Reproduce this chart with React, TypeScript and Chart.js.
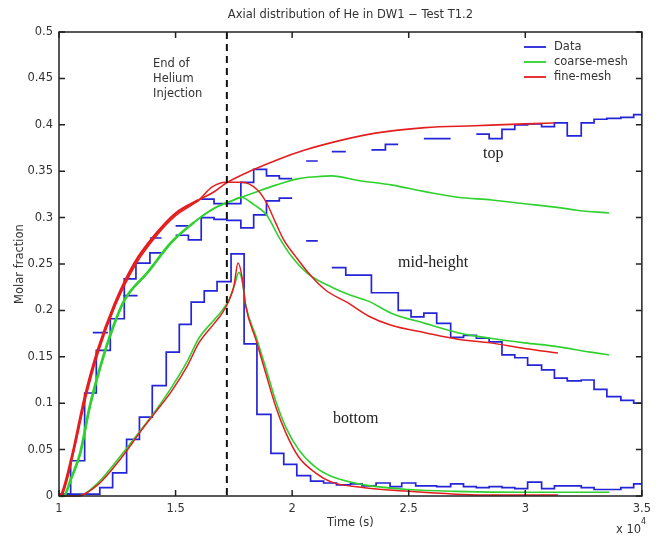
import { useEffect, useRef } from "react";
import { Chart, registerables } from "chart.js";
Chart.register(...registerables);

// ---- axes ----
const xTickValues = [1, 1.5, 2, 2.5, 3, 3.5];
const yTickValues = [0, 0.05, 0.1, 0.15, 0.2, 0.25, 0.3, 0.35, 0.4, 0.45, 0.5];
const injectionEnd = 1.72;

// ---- measured data (step series: edges in time x 1e4 s, level held between edges, null = gap) ----
const topEdges = [1.0, 1.05, 1.11, 1.16, 1.22, 1.28, 1.33, 1.39, 1.44, 1.5, 1.555, 1.61, 1.665, 1.72, 1.78, 1.835, 1.89, 1.945, 2.0, 2.06, 2.11, 2.17, 2.23, 2.34, 2.4, 2.455, 2.565, 2.68, 2.79, 2.845, 2.9, 2.955, 3.01, 3.07, 3.125, 3.18, 3.24, 3.295, 3.35, 3.41, 3.465, 3.5];
const topLevels = [0.002, 0.038, 0.111, 0.157, 0.191, 0.234, 0.251, 0.262, null, 0.291, null, 0.32, 0.315, 0.315, 0.338, 0.352, 0.345, 0.342, null, 0.361, null, 0.371, null, 0.373, 0.379, null, 0.385, null, 0.39, 0.385, 0.395, 0.4, 0.401, 0.398, 0.402, 0.388, 0.402, 0.406, 0.407, 0.408, 0.411];

const midEdges = [1.145, 1.21, 1.277, 1.337, 1.39, 1.44, 1.5, 1.555, 1.61, 1.665, 1.72, 1.78, 1.835, 1.89, 1.945, 2.0, 2.06, 2.11, 2.17, 2.23, 2.34, 2.455, 2.51, 2.565, 2.62, 2.68, 2.735, 2.79, 2.845, 2.9, 2.955, 3.01, 3.07, 3.125, 3.18, 3.24, 3.295, 3.35, 3.41, 3.465, 3.5];
const midLevels = [0.176, null, 0.216, null, 0.278, null, 0.281, 0.276, 0.3, 0.298, 0.297, 0.289, 0.303, 0.318, 0.321, null, 0.275, null, 0.246, 0.238, 0.219, 0.2, 0.193, 0.197, 0.186, 0.171, 0.173, 0.17, 0.166, 0.152, 0.149, 0.141, 0.136, 0.127, 0.124, 0.125, 0.115, 0.107, 0.103, 0.1];

const botEdges = [1.0, 1.175, 1.23, 1.29, 1.345, 1.4, 1.46, 1.516, 1.567, 1.623, 1.678, 1.738, 1.794, 1.849, 1.909, 1.964, 2.02, 2.079, 2.135, 2.19, 2.25, 2.3, 2.36, 2.42, 2.47, 2.53, 2.62, 2.68, 2.735, 2.79, 2.845, 2.9, 2.955, 3.01, 3.07, 3.125, 3.18, 3.24, 3.295, 3.35, 3.41, 3.465, 3.5];
const botLevels = [0.002, 0.009, 0.025, 0.061, 0.085, 0.119, 0.155, 0.185, 0.209, 0.221, 0.231, 0.261, 0.164, 0.088, 0.046, 0.034, 0.022, 0.016, 0.014, 0.012, 0.013, 0.011, 0.014, 0.01, 0.014, 0.011, 0.01, 0.013, 0.01, 0.009, 0.01, 0.009, 0.008, 0.015, 0.008, 0.011, 0.011, 0.009, 0.007, 0.007, 0.009, 0.013];

// ---- simulations ----
const fineTopX = [1.0, 1.013, 1.055, 1.111, 1.166, 1.239, 1.324, 1.418, 1.503, 1.6, 1.66, 1.716, 1.828, 1.943, 2.058, 2.156, 2.357, 2.57, 2.783, 2.997, 3.125];
const fineTopY = [0, 0.003, 0.042, 0.107, 0.157, 0.207, 0.251, 0.283, 0.305, 0.319, 0.327, 0.337, 0.351, 0.363, 0.373, 0.38, 0.391, 0.397, 0.399, 0.401, 0.402];
const fineMidX = [1.0, 1.017, 1.06, 1.115, 1.17, 1.243, 1.33, 1.42, 1.5, 1.6, 1.657, 1.716, 1.785, 1.85, 1.89, 1.93, 1.964, 2.015, 2.071, 2.143, 2.24, 2.327, 2.425, 2.57, 2.71, 2.85, 2.997, 3.14];
const fineMidY = [0, 0.003, 0.044, 0.106, 0.156, 0.206, 0.25, 0.281, 0.302, 0.319, 0.333, 0.338, 0.338, 0.33, 0.316, 0.294, 0.276, 0.258, 0.24, 0.222, 0.208, 0.194, 0.184, 0.176, 0.169, 0.165, 0.159, 0.154];
const fineBotX = [1.0, 1.08, 1.166, 1.27, 1.354, 1.4, 1.48, 1.55, 1.6, 1.666, 1.7, 1.73, 1.75, 1.768, 1.785, 1.8, 1.845, 1.887, 1.93, 1.973, 2.028, 2.1, 2.17, 2.31, 2.5, 2.7, 2.9, 3.14];
const fineBotY = [0, 0, 0.012, 0.042, 0.071, 0.086, 0.112, 0.14, 0.165, 0.186, 0.197, 0.211, 0.226, 0.251, 0.236, 0.206, 0.168, 0.132, 0.096, 0.068, 0.042, 0.025, 0.015, 0.009, 0.005, 0.002, 0.001, 0.001];

const coarseTopX = [1.0, 1.02, 1.05, 1.09, 1.13, 1.175, 1.23, 1.28, 1.38, 1.48, 1.58, 1.666, 1.74, 1.828, 1.93, 2.028, 2.1, 2.17, 2.284, 2.43, 2.57, 2.71, 2.856, 2.997, 3.137, 3.22, 3.36];
const coarseTopY = [0, 0, 0.018, 0.046, 0.095, 0.138, 0.181, 0.211, 0.241, 0.273, 0.295, 0.31, 0.318, 0.326, 0.335, 0.342, 0.344, 0.345, 0.34, 0.335, 0.328, 0.322, 0.319, 0.315, 0.311, 0.308, 0.305];
const coarseMidX = [1.0, 1.022, 1.053, 1.093, 1.133, 1.178, 1.233, 1.283, 1.383, 1.483, 1.58, 1.666, 1.74, 1.78, 1.836, 1.89, 1.943, 1.998, 2.07, 2.17, 2.254, 2.327, 2.425, 2.57, 2.71, 2.85, 2.997, 3.137, 3.278, 3.36];
const coarseMidY = [0, 0, 0.018, 0.046, 0.095, 0.138, 0.181, 0.211, 0.241, 0.273, 0.295, 0.31, 0.318, 0.322, 0.314, 0.303, 0.279, 0.258, 0.239, 0.225, 0.216, 0.21, 0.197, 0.186, 0.176, 0.17, 0.165, 0.161, 0.155, 0.152];
const coarseBotX = [1.0, 1.08, 1.166, 1.27, 1.354, 1.4, 1.48, 1.55, 1.6, 1.666, 1.7, 1.73, 1.75, 1.772, 1.79, 1.8, 1.845, 1.887, 1.93, 1.973, 2.028, 2.1, 2.17, 2.31, 2.5, 2.7, 3.0, 3.36];
const coarseBotY = [0, 0, 0.014, 0.045, 0.072, 0.087, 0.116, 0.145, 0.17, 0.19, 0.2, 0.212, 0.225, 0.241, 0.226, 0.207, 0.172, 0.138, 0.102, 0.074, 0.05, 0.031, 0.021, 0.012, 0.007, 0.005, 0.004, 0.004];

const legendLabels = ["Data", "coarse-mesh", "fine-mesh"];
const BLUE = "#2424d8";
const GREEN = "#2ed12e";
const RED = "#e41e1e";
const legendColors = [BLUE, GREEN, RED];

const SANS = "'DejaVu Sans', sans-serif";
const SERIF = "'Liberation Serif', 'DejaVu Serif', serif";

function steps(edges: number[], levels: (number | null)[]) {
  const pts: { x: number; y: number | null }[] = [];
  for (let i = 0; i < levels.length; i++) {
    const v = levels[i];
    if (v === null) {
      pts.push({ x: edges[i], y: null });
      continue;
    }
    pts.push({ x: edges[i], y: v });
    const next = levels[i + 1];
    if (i === levels.length - 1 || next === null) pts.push({ x: edges[i + 1], y: v });
  }
  return pts;
}
function curve(xs: number[], ys: number[]) {
  return xs.map((x, i) => ({ x, y: ys[i] }));
}

const decor = {
  id: "decor",
  afterDatasetsDraw(chart: any) {
    const { ctx, chartArea: a, scales } = chart;
    const xs = scales.x, ys = scales.y;
    ctx.save();
    // end of injection
    const px = xs.getPixelForValue(injectionEnd);
    ctx.strokeStyle = "#111";
    ctx.lineWidth = 2;
    ctx.setLineDash([7, 5]);
    ctx.beginPath();
    ctx.moveTo(px, a.top);
    ctx.lineTo(px, a.bottom);
    ctx.stroke();
    ctx.setLineDash([]);
    // box
    ctx.strokeStyle = "#222";
    ctx.lineWidth = 1.5;
    ctx.strokeRect(a.left, a.top, a.right - a.left, a.bottom - a.top);
    ctx.beginPath();
    for (const v of xTickValues) {
      const p = xs.getPixelForValue(v);
      ctx.moveTo(p, a.bottom); ctx.lineTo(p, a.bottom - 6);
      ctx.moveTo(p, a.top); ctx.lineTo(p, a.top + 6);
    }
    for (const v of yTickValues) {
      const p = ys.getPixelForValue(v);
      ctx.moveTo(a.left, p); ctx.lineTo(a.left + 6, p);
      ctx.moveTo(a.right, p); ctx.lineTo(a.right - 6, p);
    }
    ctx.stroke();

    // texts
    ctx.fillStyle = "#333";
    ctx.font = `11.5px ${SANS}`;
    ctx.textAlign = "center";
    ctx.textBaseline = "middle";
    ctx.fillText("Axial distribution of He in DW1 \u2212 Test T1.2", (a.left + a.right) / 2, 15);
    ctx.fillText("Time (s)", (a.left + a.right) / 2, 523);
    ctx.save();
    ctx.translate(20, (a.top + a.bottom) / 2);
    ctx.rotate(-Math.PI / 2);
    ctx.fillText("Molar fraction", 0, 0);
    ctx.restore();
    ctx.textAlign = "left";
    ctx.fillText("x 10", 616, 530);
    ctx.font = `8px ${SANS}`;
    ctx.fillText("4", 641, 522);

    ctx.font = `11.5px ${SANS}`;
    ctx.textBaseline = "alphabetic";
    ctx.fillText("End of", 153, 67);
    ctx.fillText("Helium", 153, 82);
    ctx.fillText("Injection", 153, 97);

    ctx.fillStyle = "#222";
    ctx.font = `16px ${SERIF}`;
    ctx.fillText("top", 483, 158);
    ctx.fillText("mid-height", 398, 267);
    ctx.fillText("bottom", 333, 423);

    // legend
    ctx.font = `11.5px ${SANS}`;
    ctx.textBaseline = "middle";
    legendLabels.forEach((lab, i) => {
      const yy = 47 + i * 15;
      ctx.strokeStyle = legendColors[i];
      ctx.lineWidth = 1.8;
      ctx.beginPath();
      ctx.moveTo(524, yy);
      ctx.lineTo(546, yy);
      ctx.stroke();
      ctx.fillStyle = "#333";
      ctx.fillText(lab, 554, yy);
    });
    ctx.restore();
  },
};

export default function App() {
  const ref = useRef<HTMLCanvasElement | null>(null);
  useEffect(() => {
    if (!ref.current) return;
    const mk = (data: any[], color: string, width: number, order: number, stepped = false, earlyWidth = 0, earlyUntil = 0) => ({
      data,
      borderColor: color,
      backgroundColor: color,
      borderWidth: width,
      pointRadius: 0,
      tension: 0,
      cubicInterpolationMode: stepped ? "default" : "monotone",
      stepped: stepped ? "before" : false,
      spanGaps: false,
      order,
      clip: 3,
      segment: earlyWidth
        ? { borderWidth: (c: any) => (c.p1.parsed.x <= earlyUntil ? earlyWidth : width) }
        : undefined,
    });
    const chart = new Chart(ref.current, {
      type: "line",
      data: {
        datasets: [
          mk(steps(topEdges, topLevels), BLUE, 1.7, 3, true),
          mk(steps(midEdges, midLevels), BLUE, 1.7, 3, true),
          mk(steps(botEdges, botLevels), BLUE, 1.7, 3, true),
          mk(curve(coarseTopX, coarseTopY), GREEN, 1.6, 2, false, 2.4, 1.6),
          mk(curve(coarseMidX, coarseMidY), GREEN, 1.6, 2),
          mk(curve(coarseBotX, coarseBotY), GREEN, 1.6, 2),
          mk(curve(fineTopX, fineTopY), RED, 1.6, 1, false, 2.6, 1.6),
          mk(curve(fineMidX, fineMidY), RED, 1.5, 1),
          mk(curve(fineBotX, fineBotY), RED, 1.5, 1),
        ] as any,
      },
      options: {
        animation: false,
        responsive: false,
        layout: { padding: { top: 32, right: 12, left: 0, bottom: 0 } },
        plugins: { legend: { display: false }, tooltip: { enabled: false }, title: { display: false } },
        scales: {
          x: {
            type: "linear",
            min: 1,
            max: 3.5,
            grid: { display: false, drawTicks: false },
            border: { display: false },
            afterFit: (s: any) => { s.height = 42; },
            afterBuildTicks: (s: any) => { s.ticks = xTickValues.map((v) => ({ value: v })); },
            ticks: {
              padding: 6,
              color: "#333",
              font: { family: SANS, size: 11.5 },
              callback: (v: any) => String(Number(Number(v).toFixed(2))),
            },
          },
          y: {
            type: "linear",
            min: 0,
            max: 0.5,
            grid: { display: false, drawTicks: false },
            border: { display: false },
            afterFit: (s: any) => { s.width = 59; },
            afterBuildTicks: (s: any) => { s.ticks = yTickValues.map((v) => ({ value: v })); },
            ticks: {
              padding: 6,
              color: "#333",
              font: { family: SANS, size: 11.5 },
              callback: (v: any) => String(Number(Number(v).toFixed(2))),
            },
          },
        },
      },
      plugins: [decor],
    });
    return () => chart.destroy();
  }, []);
  return (
    <div style={{ position: "fixed", left: 0, top: 0, width: 657, height: 538, background: "#fff" }}>
      <canvas ref={ref} width={657} height={538} style={{ display: "block" }} />
    </div>
  );
}
